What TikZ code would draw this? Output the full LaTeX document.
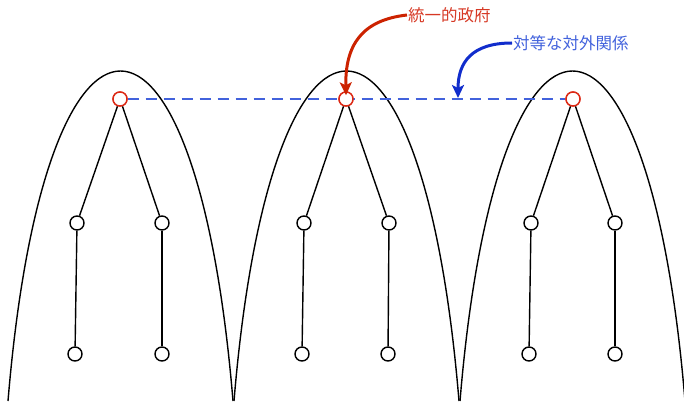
\documentclass[tikz,border=0pt]{standalone}
\usepackage{fontspec}
\newfontfamily\cjk{Noto Sans CJK JP}
\usetikzlibrary{arrows.meta}
\definecolor{arrred}{RGB}{204,34,0}
\definecolor{txtred}{RGB}{214,56,36}
\definecolor{arrblue}{RGB}{17,45,204}
\definecolor{txtblue}{RGB}{66,98,220}
\definecolor{circred}{RGB}{220,40,20}
\tikzset{
  vert/.style={circle,draw=black,fill=white,line width=1.4pt,minimum size=14pt,inner sep=0pt},
  rootv/.style={vert,draw=circred},
  edge/.style={line width=1.4pt,black},
  hill/.style={line width=1.4pt,black},
  lbl/.style={font=\cjk\fontsize{16.5}{20}\selectfont,inner sep=1pt,anchor=west},
  callout/.style={line width=3pt,-{Stealth[length=13pt,width=12pt,inset=3pt]}},
  link/.style={line width=1.5pt,txtblue,dash pattern=on 11pt off 7pt}
}
\begin{document}
\begin{tikzpicture}[x=1pt,y=-1pt]
\useasboundingbox (0,0) rectangle (684,401);
% hills
\draw[hill] (8,401) .. controls (44.5,-39) and (196.5,-39) .. (233,401);
\draw[hill] (234,401) .. controls (270.5,-39) and (422.5,-39) .. (459,401);
\draw[hill] (460,401) .. controls (496.5,-39) and (648.5,-39) .. (685,401);
% trees
\foreach \n/\r/\ax/\bx/\cx/\dx in {A/120/77/162/75/162, B/346/304/389/302/388, C/573/531/615/529/615}{
  \node[rootv] (\n r) at (\r,99) {};
  \node[vert] (\n a) at (\ax,223) {};
  \node[vert] (\n b) at (\bx,223) {};
  \node[vert] (\n c) at (\cx,354) {};
  \node[vert] (\n d) at (\dx,354) {};
  \draw[edge] (\n r) -- (\n a);
  \draw[edge] (\n r) -- (\n b);
  \draw[edge] (\n a) -- (\n c);
  \draw[edge] (\n b) -- (\n d);
}
% dashed link
\draw[link] (Ar) -- (Cr);
\node[rootv] at (Ar) {};
\node[rootv] at (Br) {};
\node[rootv] at (Cr) {};
% labels
\node[lbl,txtred] (gov) at (407,15) {統一的政府};
\node[lbl,txtblue] (rel) at (512,43) {対等な対外関係};
\coordinate (mid) at (458,98);
\draw[callout,arrred] (gov.west) .. controls (362,20) and (345,45) .. ([yshift=-4pt]Br.north);
\draw[callout,arrblue] (rel.west) .. controls (472,43) and (458,62) .. (mid);
\end{tikzpicture}
\end{document}
